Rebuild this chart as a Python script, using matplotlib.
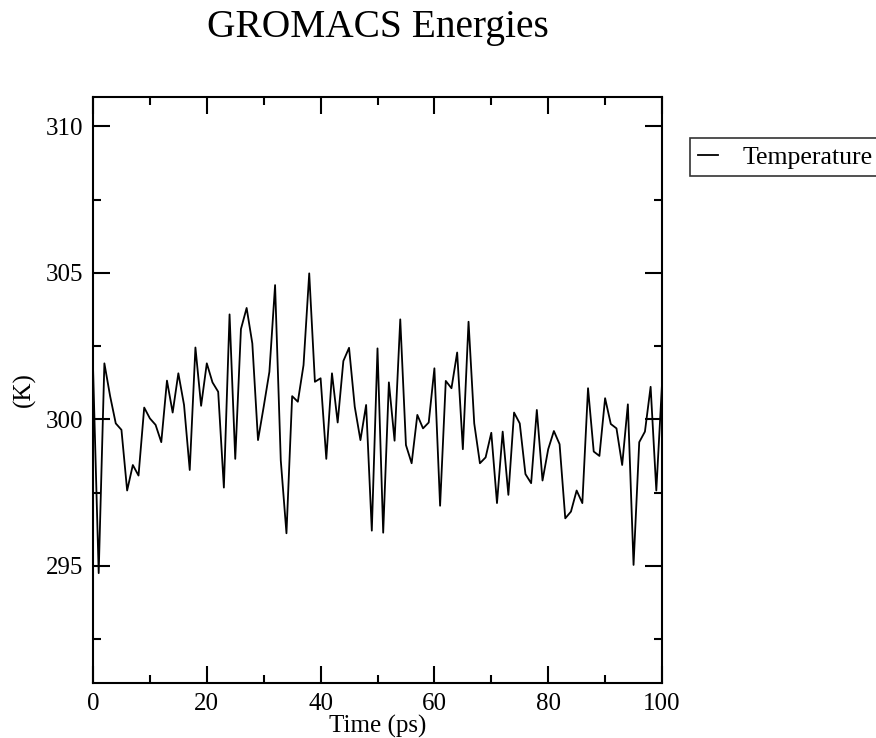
import matplotlib
matplotlib.use("Agg")
import matplotlib.pyplot as plt
from matplotlib.ticker import MultipleLocator
import numpy as np

# Temperature, one point per ps
time_ps = np.arange(0, 101)
temperature = [
    301.8, 294.75, 301.91, 300.8, 299.86, 299.64, 297.57, 298.44, 298.08, 300.40,
    300.03, 299.81, 299.22, 301.32, 300.23, 301.57, 300.49, 298.27, 302.45, 300.46,
    301.91, 301.26, 300.94, 297.67, 303.58, 298.65, 303.08, 303.80, 302.59, 299.29,
    300.43, 301.62, 304.58, 298.6, 296.11, 300.79, 300.60, 301.85, 304.98, 301.28,
    301.40, 298.65, 301.57, 299.89, 301.99, 302.44, 300.43, 299.29, 300.49, 296.20,
    302.42, 296.13, 301.26, 299.27, 303.41, 299.12, 298.50, 300.15, 299.69, 299.89,
    301.74, 297.05, 301.31, 301.06, 302.28, 298.98, 303.33, 299.86, 298.50, 298.70,
    299.54, 297.14, 299.58, 297.42, 300.23, 299.86, 298.13, 297.82, 300.32, 297.91,
    298.98, 299.60, 299.15, 296.62, 296.85, 297.57, 297.14, 301.06, 298.90, 298.75,
    300.72, 299.84, 299.69, 298.44, 300.51, 295.03, 299.22, 299.58, 301.11, 297.57,
    301.2,
]
series_name = "Temperature"
title = "GROMACS Energies"
x_label = "Time (ps)"
y_label = "(K)"

plt.rcParams['font.family'] = ['Liberation Serif', 'DejaVu Serif']

W, H = 876, 738
fig = plt.figure(figsize=(W / 100, H / 100), dpi=100)
# axes box in pixels: left 93, right 662, top 97, bottom 683
ax = fig.add_axes([93 / W, 1 - 683 / H, (662 - 93) / W, (683 - 97) / H])

line, = ax.plot(time_ps, temperature, color='black', lw=1.3, label=series_name)

ax.set_xlim(0, 100)
ax.set_ylim(291, 311)
ax.xaxis.set_major_locator(MultipleLocator(20))
ax.xaxis.set_minor_locator(MultipleLocator(10))
ax.yaxis.set_major_locator(MultipleLocator(5))
ax.yaxis.set_minor_locator(MultipleLocator(2.5))
ax.tick_params(which='both', direction='in', top=True, right=True,
               width=1.5, labelsize=18)
ax.tick_params(which='major', length=12, pad=7)
ax.tick_params(which='minor', length=6)
for s in ax.spines.values():
    s.set_linewidth(1.5)

ax.set_xlabel(x_label, fontsize=18, labelpad=0)
ax.set_ylabel(y_label, fontsize=18, va='center')
ax.yaxis.set_label_coords((24 - 93) / (662 - 93), 0.5)

fig.text((93 + 662) / 2 / W, 1 - 37 / H, title, fontsize=28.4,
         ha='center', va='baseline')

# legend box runs off the right edge of the figure, as in the original
leg = fig.legend(handles=[line], loc='upper left',
                 bbox_to_anchor=(690 / W, 1 - 138 / H), fontsize=18.5,
                 frameon=True, fancybox=False, handlelength=0.8,
                 handletextpad=0.95, borderpad=0.3, borderaxespad=0)
leg.get_frame().set_edgecolor('black')
leg.get_frame().set_linewidth(1.2)

fig.savefig("out.png", dpi=100)
